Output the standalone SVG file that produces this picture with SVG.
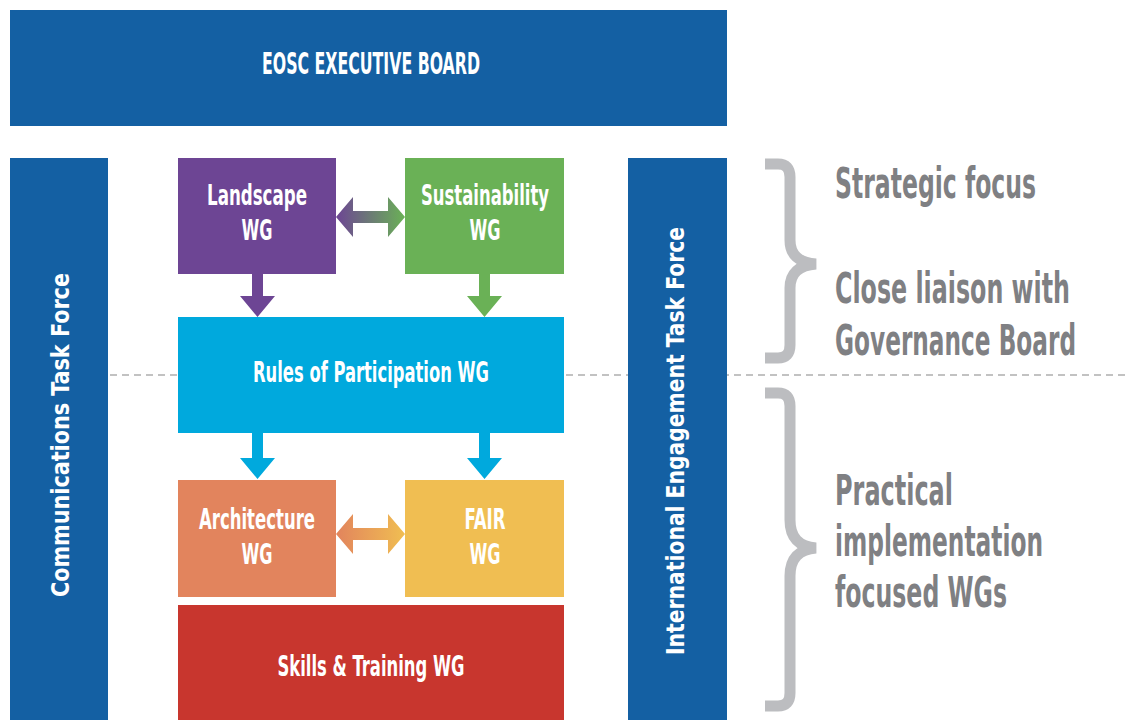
<svg xmlns="http://www.w3.org/2000/svg" width="1130" height="720" viewBox="0 0 1130 720">
<style>
.t{font-family:"Liberation Sans Narrow","DejaVu Sans Condensed","Liberation Sans",sans-serif;font-weight:bold;fill:#ffffff;}
.g{font-family:"Liberation Sans Narrow","DejaVu Sans Condensed","Liberation Sans",sans-serif;font-weight:bold;fill:#7f8083;font-size:42px;}
.brace{fill:none;stroke:#bcbdc0;stroke-width:11;stroke-linejoin:miter;}
</style>
<defs>
<linearGradient id="gTop" x1="0" y1="0" x2="1" y2="0"><stop offset="0" stop-color="#6d4594"/><stop offset="1" stop-color="#6ab156"/></linearGradient>
<linearGradient id="gBot" x1="0" y1="0" x2="1" y2="0"><stop offset="0" stop-color="#e2845d"/><stop offset="1" stop-color="#f0be52"/></linearGradient>
</defs>
<rect width="1130" height="720" fill="#ffffff"/>
<line x1="110" y1="375" x2="1130" y2="375" stroke="#c2c2c2" stroke-width="2" stroke-dasharray="7 5"/>
<g id="executive-board"><rect x="10" y="10" width="717" height="116" fill="#1460a3"/><text class="t" x="371" y="74" font-size="30" text-anchor="middle" textLength="218" lengthAdjust="spacingAndGlyphs">EOSC EXECUTIVE BOARD</text></g>
<g id="communications"><rect x="10" y="158" width="98" height="562" fill="#1460a3"/><text class="t" transform="translate(69 435) rotate(-90)" font-size="25" text-anchor="middle" textLength="324" lengthAdjust="spacingAndGlyphs">Communications Task Force</text></g>
<g id="international"><rect x="628" y="158" width="99" height="562" fill="#1460a3"/><text class="t" transform="translate(684 441) rotate(-90)" font-size="25" text-anchor="middle" textLength="428" lengthAdjust="spacingAndGlyphs">International Engagement Task Force</text></g>
<g id="landscape"><rect x="178" y="158" width="158" height="116" fill="#6d4594"/><text class="t" x="257" y="205" font-size="28" text-anchor="middle" textLength="100" lengthAdjust="spacingAndGlyphs">Landscape</text><text class="t" x="257" y="240" font-size="28" text-anchor="middle" textLength="31" lengthAdjust="spacingAndGlyphs">WG</text></g>
<g id="sustainability"><rect x="405" y="158" width="159" height="116" fill="#6ab156"/><text class="t" x="485" y="205" font-size="28" text-anchor="middle" textLength="128" lengthAdjust="spacingAndGlyphs">Sustainability</text><text class="t" x="485" y="240" font-size="28" text-anchor="middle" textLength="31" lengthAdjust="spacingAndGlyphs">WG</text></g>
<g id="rules"><rect x="178" y="317" width="386" height="116" fill="#00a9dd"/><text class="t" x="371" y="382" font-size="28" text-anchor="middle" textLength="236" lengthAdjust="spacingAndGlyphs">Rules of Participation WG</text></g>
<g id="architecture"><rect x="178" y="480" width="158" height="117" fill="#e2845d"/><text class="t" x="257" y="529" font-size="28" text-anchor="middle" textLength="116" lengthAdjust="spacingAndGlyphs">Architecture</text><text class="t" x="257" y="564" font-size="28" text-anchor="middle" textLength="31" lengthAdjust="spacingAndGlyphs">WG</text></g>
<g id="fair"><rect x="405" y="480" width="159" height="117" fill="#f0be52"/><text class="t" x="485" y="529" font-size="28" text-anchor="middle" textLength="41" lengthAdjust="spacingAndGlyphs">FAIR</text><text class="t" x="485" y="564" font-size="28" text-anchor="middle" textLength="31" lengthAdjust="spacingAndGlyphs">WG</text></g>
<g id="skills"><rect x="178" y="605" width="386" height="115" fill="#c8362e"/><text class="t" x="371" y="676" font-size="28" text-anchor="middle" textLength="187" lengthAdjust="spacingAndGlyphs">Skills &amp; Training WG</text></g>
<g id="connectors">
<polygon points="252,274 263,274 263,296 275,296 257.5,317 240,296 252,296" fill="#6d4594"/>
<polygon points="479,274 490,274 490,296 502,296 484.5,317 467,296 479,296" fill="#6ab156"/>
<polygon points="252,433 263,433 263,458 275,458 257.5,479 240,458 252,458" fill="#00a9dd"/>
<polygon points="479,433 490,433 490,458 502,458 484.5,479 467,458 479,458" fill="#00a9dd"/>
<polygon points="336,217 353,197 353,211 388,211 388,197 405,217 388,237 388,223 353,223 353,237" fill="url(#gTop)"/>
<polygon points="336,534 353,514 353,528 388,528 388,514 405,534 388,554 388,540 353,540 353,554" fill="url(#gBot)"/>
</g>
<g id="braces">
<path class="brace" d="M765 164 H778 Q790 164 790 177 V240 Q790 262 816 264 Q790 266 790 288 V345 Q790 358 778 358 H765"/>
<path class="brace" d="M765 393 H778 Q790 393 790 406 V520 Q790 546 816 548 Q790 550 790 576 V693 Q790 706 778 706 H765"/>
</g>
<g id="labels">
<text class="g" x="835" y="198" textLength="201" lengthAdjust="spacingAndGlyphs">Strategic focus</text>
<text class="g" x="835" y="303" textLength="235" lengthAdjust="spacingAndGlyphs">Close liaison with</text>
<text class="g" x="835" y="355" textLength="241" lengthAdjust="spacingAndGlyphs">Governance Board</text>
<text class="g" x="835" y="505" textLength="118" lengthAdjust="spacingAndGlyphs">Practical</text>
<text class="g" x="835" y="556" textLength="208" lengthAdjust="spacingAndGlyphs">implementation</text>
<text class="g" x="835" y="607" textLength="172" lengthAdjust="spacingAndGlyphs">focused WGs</text>
</g>
</svg>
